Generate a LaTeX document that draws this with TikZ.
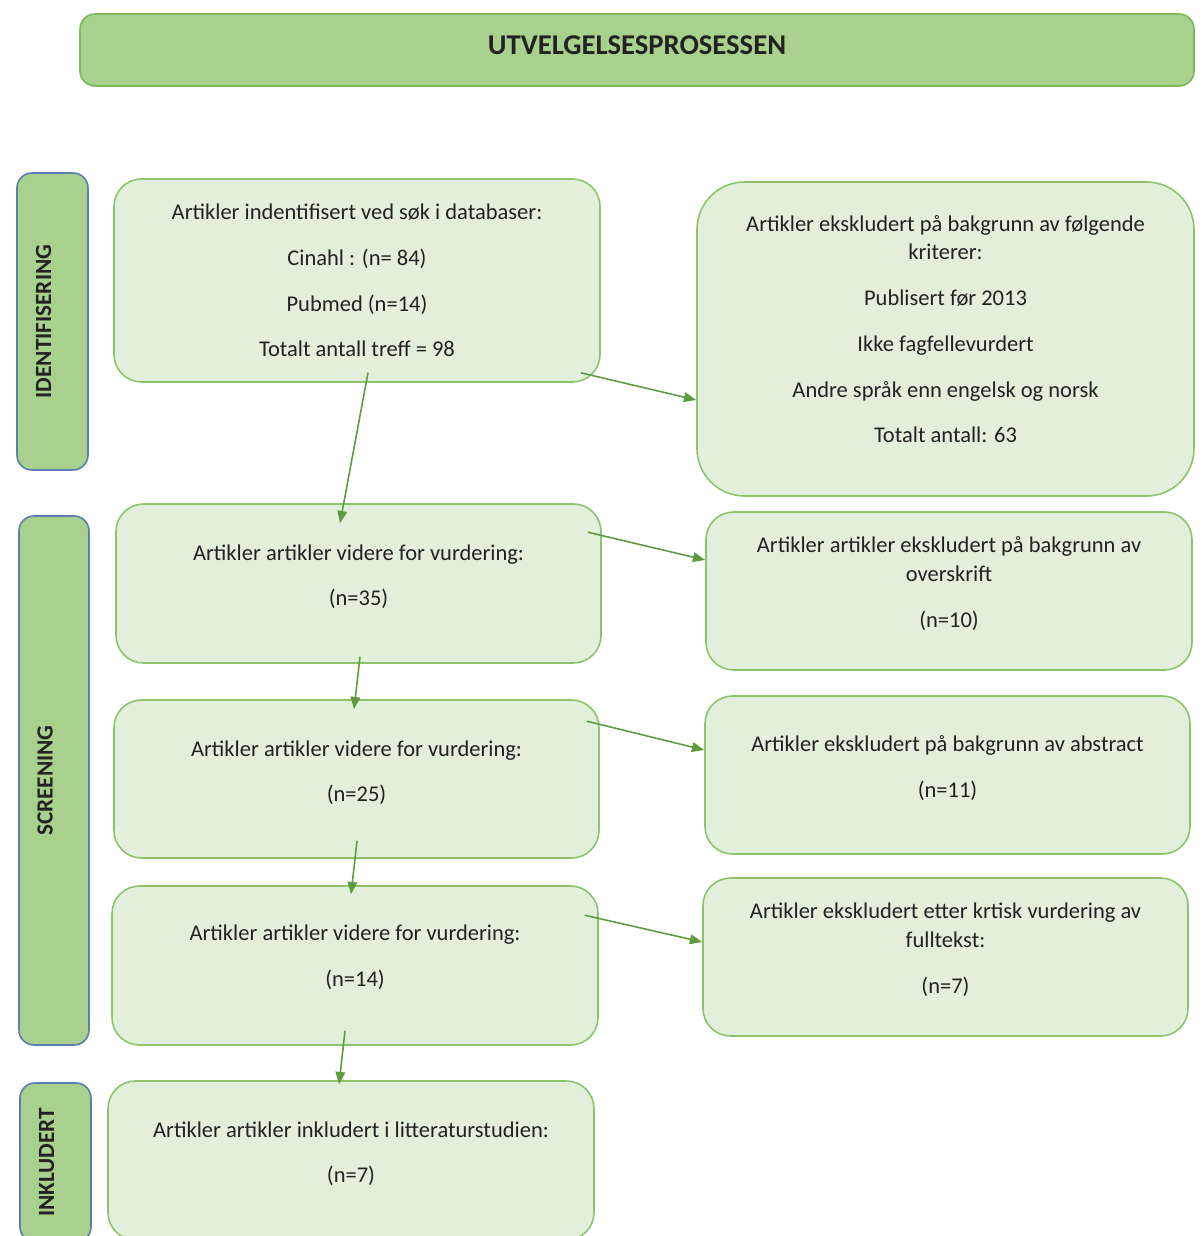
\documentclass[tikz,border=0pt]{standalone}
\usepackage{fontspec}
\setmainfont{Carlito}
\usetikzlibrary{arrows.meta}

\definecolor{headgreen}{HTML}{A9D18E}
\definecolor{headline}{HTML}{7DB85A}
\definecolor{palegreen}{HTML}{E2EFDA}
\definecolor{paleline}{HTML}{8CC46C}
\definecolor{arrowgreen}{HTML}{5E9A3E}
\definecolor{sideline}{HTML}{5B7DB1}
\definecolor{textgray}{HTML}{222222}

\newcommand{\para}{\\[9.6pt]}

\begin{document}
\begin{tikzpicture} [
		font = \fontsize{12.8}{16.4}\selectfont,
		text = textgray,
		stagebox/.style = {draw = paleline, line width = 0.9pt, fill = palegreen, rounded corners = 0.55cm, align = center, inner sep = 0pt},
		sidebox/.style = {draw = sideline, line width = 0.9pt, fill = headgreen, rounded corners = 0.3cm, rotate = 90, font = \fontsize{13.2}{15}\selectfont\bfseries, inner sep = 0pt, text height = 0.3cm, text depth = 0.36cm},
		flow/.style = {-{Triangle[length = 7pt, width = 5.5pt]}, draw = arrowgreen, line width = 0.9pt}
	]
		\useasboundingbox (0, 0) rectangle (24.06, -24.72);

		% header
		\node[draw = headline, line width = 0.9pt, fill = headgreen, rounded corners = 0.3cm, minimum width = 22.28cm, minimum height = 1.44cm, inner sep = 0pt] (title) at (12.74, -1.0) {};
		\node[font = \fontsize{16.3}{18}\selectfont\bfseries] (titletext) at (12.74, -0.9) {UTVELGELSESPROSESSEN};

		% phases
		\node[sidebox, minimum width = 5.94cm, minimum height = 1.42cm] (phaseId) at (1.05, -6.43) {IDENTIFISERING};
		\node[sidebox, minimum width = 10.58cm, minimum height = 1.4cm] (phaseScr) at (1.08, -15.61) {SCREENING};
		\node[sidebox, minimum width = 3.18cm, minimum height = 1.42cm] (phaseInc) at (1.11, -23.25) {INKLUDERT};

		% left column
		\node[stagebox, minimum width = 9.72cm, minimum height = 4.06cm] (found) at (7.14, -5.61)
			{Artikler indentifisert ved søk i databaser:\para Cinahl : (n= 84)\para Pubmed (n=14)\para Totalt antall treff = 98};
		\node[stagebox, minimum width = 9.7cm, minimum height = 3.18cm] (scrOne) at (7.17, -11.67)
			{Artikler artikler videre for vurdering:\para (n=35)\\[-6.8pt]};
		\node[stagebox, minimum width = 9.7cm, minimum height = 3.16cm] (scrTwo) at (7.13, -15.58)
			{Artikler artikler videre for vurdering:\para (n=25)\\[-7.4pt]};
		\node[stagebox, minimum width = 9.72cm, minimum height = 3.18cm] (scrThree) at (7.10, -19.31)
			{Artikler artikler videre for vurdering:\para (n=14)\\[-5.6pt]};
		\node[stagebox, minimum width = 9.72cm, minimum height = 3.18cm] (incl) at (7.02, -23.21)
			{Artikler artikler inkludert i litteraturstudien:\para (n=7)\\[-6.8pt]};

		% right column
		\node[stagebox, rounded corners = 0.95cm, minimum width = 9.94cm, minimum height = 6.28cm] (exOne) at (18.91, -6.78)
			{Artikler ekskludert på bakgrunn av følgende\\kriterer:\para Publisert før 2013\para Ikke fagfellevurdert\para Andre språk enn engelsk og norsk\para Totalt antall: 63\\[-5pt]};
		\node[stagebox, minimum width = 9.72cm, minimum height = 3.16cm] (exTwo) at (18.98, -11.82)
			{Artikler artikler ekskludert på bakgrunn av\\overskrift\para (n=10)\\[-6.4pt]};
		\node[stagebox, minimum width = 9.7cm, minimum height = 3.16cm] (exThree) at (18.95, -15.5)
			{Artikler ekskludert på bakgrunn av abstract\para (n=11)\\[-6.8pt]};
		\node[stagebox, minimum width = 9.7cm, minimum height = 3.16cm] (exFour) at (18.91, -19.14)
			{Artikler ekskludert etter krtisk vurdering av\\fulltekst:\para (n=7)\\[-6.4pt]};

		% edges
		\draw[flow] ([shift = {(0.22, 0.2)}]found.south) -- ([shift = {(-0.37, -0.4)}]scrOne.north);
		\draw[flow] ([shift = {(-0.4, 0.2)}]found.south east) -- ([yshift = -1.22cm]exOne.west);
		\draw[flow] ([shift = {(-0.28, -0.58)}]scrOne.north east) -- ([yshift = 0.62cm]exTwo.west);
		\draw[flow] ([shift = {(0.03, 0.14)}]scrOne.south) -- ([shift = {(-0.05, -0.2)}]scrTwo.north);
		\draw[flow] ([shift = {(-0.26, -0.44)}]scrTwo.north east) -- ([yshift = 0.5cm]exThree.west);
		\draw[flow] ([shift = {(0.01, 0.36)}]scrTwo.south) -- ([shift = {(-0.08, -0.18)}]scrThree.north);
		\draw[flow] ([shift = {(-0.28, -0.6)}]scrThree.north east) -- ([yshift = 0.3cm]exFour.west);
		\draw[flow] ([shift = {(-0.2, 0.3)}]scrThree.south) -- ([shift = {(-0.24, -0.08)}]incl.north);

\end{tikzpicture}
\end{document}
